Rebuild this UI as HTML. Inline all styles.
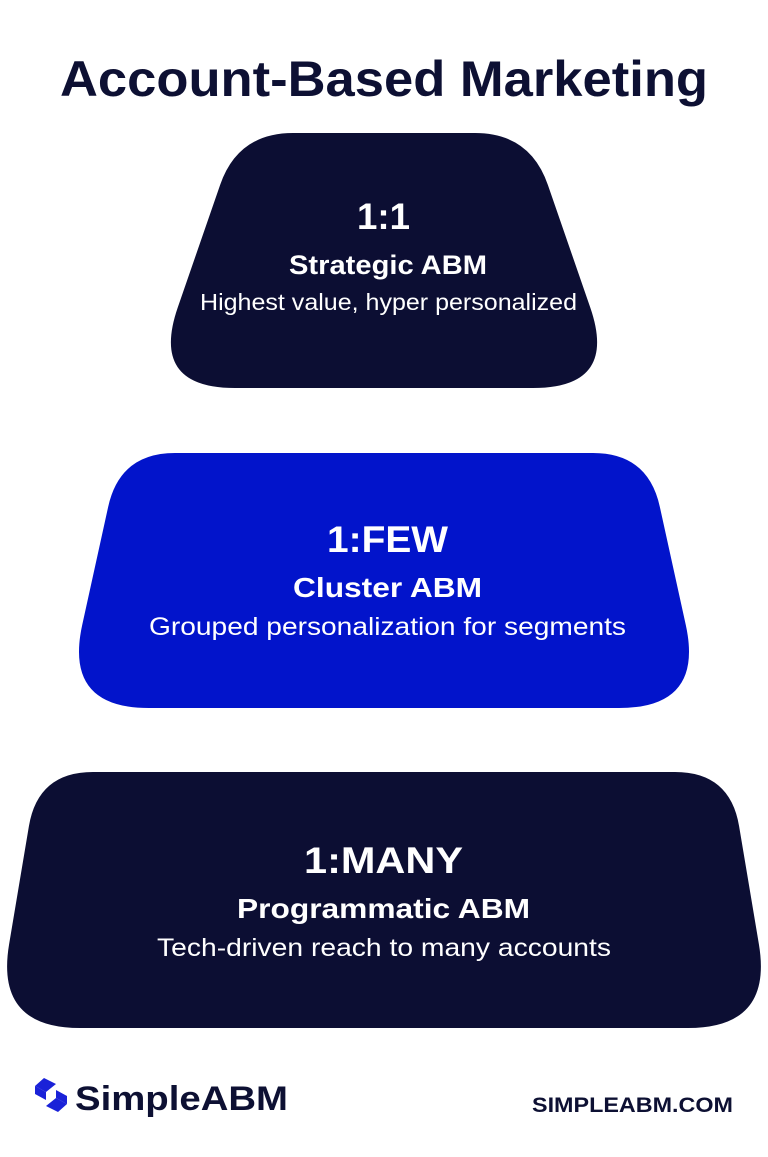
<!DOCTYPE html>
<html><head><meta charset="utf-8"><style>
html,body{margin:0;padding:0;background:#fff;}
body{width:768px;height:1152px;overflow:hidden;font-family:"Liberation Sans",sans-serif;}
</style></head><body>
<svg id="s" width="768" height="1152" viewBox="0 0 768 1152" xmlns="http://www.w3.org/2000/svg">
<text x="60" y="96" textLength="648" lengthAdjust="spacingAndGlyphs" font-size="50" font-weight="bold" fill="#0d1033" font-family="Liberation Sans, sans-serif">Account-Based Marketing</text>
<path id="p1" fill="#0c0e33"/>
<path id="p2" fill="#0214cb"/>
<path id="p3" fill="#0c0e33"/>
<g fill="#fff" font-family="Liberation Sans, sans-serif">
<text x="357" y="229" textLength="53" lengthAdjust="spacingAndGlyphs" font-size="37" font-weight="bold">1:1</text>
<text x="289" y="274" textLength="198" lengthAdjust="spacingAndGlyphs" font-size="27" font-weight="bold">Strategic ABM</text>
<text x="200" y="310" textLength="377" lengthAdjust="spacingAndGlyphs" font-size="23">Highest value, hyper personalized</text>
<text x="327" y="552" textLength="121" lengthAdjust="spacingAndGlyphs" font-size="37" font-weight="bold">1:FEW</text>
<text x="293" y="597" textLength="189" lengthAdjust="spacingAndGlyphs" font-size="28" font-weight="bold">Cluster ABM</text>
<text x="149" y="635" textLength="477" lengthAdjust="spacingAndGlyphs" font-size="25">Grouped personalization for segments</text>
<text x="304" y="873" textLength="159" lengthAdjust="spacingAndGlyphs" font-size="37" font-weight="bold">1:MANY</text>
<text x="237" y="918" textLength="293" lengthAdjust="spacingAndGlyphs" font-size="28" font-weight="bold">Programmatic ABM</text>
<text x="157" y="956" textLength="454" lengthAdjust="spacingAndGlyphs" font-size="25">Tech-driven reach to many accounts</text>
</g>
<g fill="#1a22d8">
<path d="M44 1078 L56 1084 L46 1092 L35 1086 Z"/>
<path d="M35 1086 L46 1092 L46 1100 L35 1094 Z"/>
<path d="M56 1090 L67 1096 L67 1104 L56 1098 Z"/>
<path d="M46 1106 L56 1098 L67 1104 L58 1112 Z"/>
</g>
<text x="75" y="1110" textLength="213" lengthAdjust="spacingAndGlyphs" font-size="34" font-weight="bold" fill="#0d1033" font-family="Liberation Sans, sans-serif">SimpleABM</text>
<text x="532" y="1112" textLength="201" lengthAdjust="spacingAndGlyphs" font-size="21" font-weight="bold" fill="#0d1033" font-family="Liberation Sans, sans-serif">SIMPLEABM.COM</text>
</svg>
<script>
function shape(id,top,bot,tl,tr,br,bl,rt,rb){
 function pt(a,b,d){var dx=b[0]-a[0],dy=b[1]-a[1],L=Math.hypot(dx,dy);return [a[0]+dx/L*d,a[1]+dy/L*d];}
 var TL=[tl,top],TR=[tr,top],BR=[br,bot],BL=[bl,bot];
 var c=[[TL,rt],[TR,rt],[BR,rb],[BL,rb]];
 var d="";
 for(var i=0;i<4;i++){
  var P=c[i][0],r=c[i][1],prev=c[(i+3)%4][0],next=c[(i+1)%4][0];
  var a=pt(P,prev,r),b=pt(P,next,r);
  d+=(i==0?"M":"L")+a[0].toFixed(1)+" "+a[1].toFixed(1)+" Q"+P[0]+" "+P[1]+" "+b[0].toFixed(1)+" "+b[1].toFixed(1)+" ";
 }
 document.getElementById(id).setAttribute("d",d+"Z");
}
shape("p1",133,388,238,530,618,150,55,85);
shape("p2",453,708,120,648,704,64,55,85);
shape("p3",772,1028,38,730,773,-5,55,85);
</script>
</body></html>
